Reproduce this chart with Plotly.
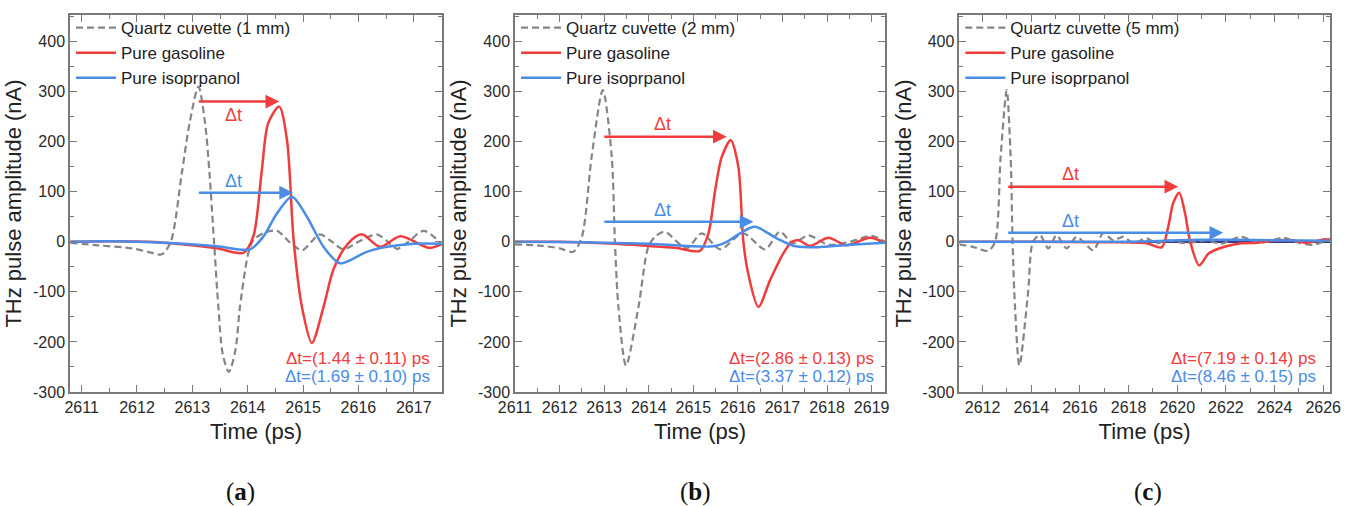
import plotly.graph_objects as go

# ---------------- data ----------------
# Panel (a): 1 mm cuvette
t_quartz_a = [2610.8, 2611.3, 2611.9, 2612.2, 2612.45, 2612.61, 2612.81, 2612.95, 2613.11, 2613.23,
              2613.31, 2613.39, 2613.47, 2613.55, 2613.66, 2613.78, 2613.86, 2614.01, 2614.1, 2614.3,
              2614.53, 2614.75, 2614.98, 2615.15, 2615.3, 2615.5, 2615.73, 2616.0, 2616.33, 2616.5,
              2616.7, 2616.9, 2617.18, 2617.48]
v_quartz_a = [-2, -7, -13, -20, -25, 0, 137, 237, 310, 237,
              137, 3, -130, -225, -260, -215, -130, -23, 3, 18,
              22, 0, -17, 0, 15, 2, -15, 0, 15, 3,
              -14, 0, 22, -2]
t_gas_a = [2610.8, 2611.5, 2612.2, 2612.8, 2613.44, 2613.92, 2614.1, 2614.25, 2614.37, 2614.57,
           2614.71, 2614.83, 2614.98, 2615.16, 2615.37, 2615.55, 2615.8, 2616.06, 2616.39, 2616.76,
           2617.27, 2617.51]
v_gas_a = [0, 1, 0, -5, -13, -22, 10, 137, 237, 270,
           203, 3, -130, -202, -130, -55, -5, 15, -10, 11,
           -12, -4]
t_iso_a = [2610.8, 2611.5, 2612.5, 2613.44, 2614.04, 2614.28, 2614.53, 2614.8, 2615.07, 2615.37,
           2615.67, 2616.15, 2616.52, 2617.0, 2617.51]
v_iso_a = [0, 1, -2, -9, -15, 10, 57, 90, 50, -10,
           -43, -20, -10, -4, -4]

# Panel (b): 2 mm cuvette
t_quartz_b = [2611.0, 2611.6, 2612.0, 2612.31, 2612.5, 2612.72, 2612.97, 2613.17, 2613.24, 2613.32,
              2613.49, 2613.77, 2613.99, 2614.14, 2614.36, 2614.85, 2615.19, 2615.6, 2616.12, 2616.61,
              2616.94, 2617.24, 2617.58, 2618.03, 2618.51, 2619.0, 2619.3]
v_quartz_b = [-5, -8, -13, -20, 10, 170, 303, 170, 3, -130,
              -247, -130, -10, 10, 20, -13, 17, -15, 17, -15,
              20, -3, 13, -6, 0, 12, 0]
t_gas_b = [2611.0, 2612.0, 2613.0, 2613.95, 2614.6, 2615.15, 2615.34, 2615.49, 2615.64, 2615.84,
           2616.01, 2616.12, 2616.23, 2616.46, 2616.72, 2617.02, 2617.21, 2617.36, 2617.62, 2618.03,
           2618.44, 2618.96, 2619.3]
v_gas_b = [0, 0, -3, -8, -12, -18, 17, 103, 170, 203,
           150, 3, -63, -130, -77, -23, 0, 3, -8, 8,
           -7, 8, -2]
t_iso_b = [2611.0, 2612.5, 2614.0, 2615.45, 2615.75, 2616.05, 2616.38, 2616.87, 2617.24, 2617.6,
           2617.9, 2618.51, 2619.3]
v_iso_b = [0, -1, -4, -9, 0, 17, 30, 7, -8, -11,
           -10, -6, -2]

# Panel (c): 5 mm cuvette
t_quartz_c = [2611.04, 2611.6, 2612.23, 2612.51, 2612.74, 2612.99, 2613.15, 2613.23, 2613.33, 2613.51,
              2613.87, 2614.07, 2614.36, 2614.7, 2615.04, 2615.45, 2615.86, 2616.2, 2616.55, 2616.96,
              2617.37, 2617.78, 2618.19, 2618.74, 2619.15, 2619.56, 2620.38, 2621.2, 2621.8, 2622.6,
              2623.4, 2624.36, 2625.0, 2625.59, 2626.28]
v_quartz_c = [-5, -10, -18, 0, 170, 303, 170, 3, -130, -247,
              -100, 0, 13, -13, 13, -13, 10, -3, -17, 17,
              3, 10, -3, 7, -3, 3, -3, 3, -4, 10,
              -2, 8, -2, -6, 6]
t_gas_c = [2611.04, 2614.0, 2617.0, 2618.74, 2619.36, 2619.63, 2619.83, 2620.08, 2620.32, 2620.52,
           2620.9, 2621.3, 2621.94, 2622.62, 2623.3, 2624.08, 2624.76, 2625.32, 2626.07, 2626.28]
v_gas_c = [0, 0, -1, -3, -11, 30, 77, 98, 57, 3,
           -47, -23, -10, -3, -2, 3, 3, -2, 5, 3]
t_iso_c = [2611.04, 2615.0, 2618.0, 2619.0, 2620.0, 2621.0, 2622.0, 2624.0, 2626.28]
v_iso_c = [0, 0, 0, 1, 3, 4, 4, 3, 2]

# Delay arrows: (start time, end time, level) and result labels
arrows_gas = [(2613.09, 2614.57, 280), (2612.97, 2615.75, 210), (2612.99, 2620.04, 110)]
arrows_iso = [(2613.09, 2614.82, 98), (2612.97, 2616.35, 40), (2612.99, 2621.89, 18)]
dt_gas = ["Δt=(1.44 ± 0.11) ps", "Δt=(2.86 ± 0.13) ps", "Δt=(7.19 ± 0.14) ps"]
dt_iso = ["Δt=(1.69 ± 0.10) ps", "Δt=(3.37 ± 0.12) ps", "Δt=(8.46 ± 0.15) ps"]
cuvettes = ["Quartz cuvette (1 mm)", "Quartz cuvette (2 mm)", "Quartz cuvette (5 mm)"]
panel_labels = ["a", "b", "c"]

x_ranges = [[2610.79, 2617.51], [2611.0, 2619.3], [2611.04, 2626.28]]
x_dticks = [1, 1, 2]
x_minor = [0.5, 0.5, 1]
y_ticks = [-300, -200, -100, 0, 100, 200, 300, 400]
y_ticklabels = ["-300", "-200", "-100", "0", "100", "200", "300", "400"]

# ---------------- styling ----------------
RED = "#F03C3C"
BLUE = "#4A8CE6"
GRAY = "#858585"
FONT = "Liberation Sans, Arial, sans-serif"
SERIF = "Liberation Serif, Times New Roman, serif"
W, H = 1350, 506
px_left = [70, 515, 959.3]
px_right = [442, 885, 1330]
py_top, py_bot = 15, 392
ydom = [(H - py_bot) / H, (H - py_top) / H]

panels = [
    (t_quartz_a, v_quartz_a, t_gas_a, v_gas_a, t_iso_a, v_iso_a),
    (t_quartz_b, v_quartz_b, t_gas_b, v_gas_b, t_iso_b, v_iso_b),
    (t_quartz_c, v_quartz_c, t_gas_c, v_gas_c, t_iso_c, v_iso_c),
]

fig = go.Figure()
annotations = []
legend_names = ["legend", "legend2", "legend3"]
layout = dict()
label_shift = [-0.08, -0.05, -0.9]
label_side = [-13, 13, 13]

for i, (tq, vq, tg, vg, ti, vi) in enumerate(panels):
    sfx = "" if i == 0 else str(i + 1)
    xa, ya = "x" + sfx, "y" + sfx
    lg = legend_names[i]
    fig.add_trace(go.Scatter(x=tq, y=vq, mode="lines", name=cuvettes[i],
                             line=dict(color=GRAY, width=2.2, dash="7px,4px", shape="spline", smoothing=0.8),
                             xaxis=xa, yaxis=ya, legend=lg))
    fig.add_trace(go.Scatter(x=tg, y=vg, mode="lines", name="Pure gasoline",
                             line=dict(color=RED, width=2.5, shape="spline", smoothing=0.8),
                             xaxis=xa, yaxis=ya, legend=lg))
    fig.add_trace(go.Scatter(x=ti, y=vi, mode="lines", name="Pure isoprpanol",
                             line=dict(color=BLUE, width=2.5, shape="spline", smoothing=0.8),
                             xaxis=xa, yaxis=ya, legend=lg))

    xd = [px_left[i] / W, px_right[i] / W]
    axis_common = dict(showline=True, mirror="ticks", linecolor="#7a7a7a", linewidth=1.5,
                       ticks="inside", ticklen=7, tickwidth=1.2, tickcolor="#7a7a7a",
                       showgrid=False, zeroline=False, automargin=False,
                       tickfont=dict(family=FONT, size=16, color="#2a2a2a"))
    layout["xaxis" + sfx] = dict(axis_common, domain=xd, anchor=ya, range=x_ranges[i],
                                 dtick=x_dticks[i], tick0=2610,
                                 minor=dict(ticks="inside", ticklen=4, dtick=x_minor[i], tickcolor="#7a7a7a"),
                                 title=dict(text="Time (ps)", font=dict(family=FONT, size=22, color="#222222"),
                                            standoff=9))
    layout["yaxis" + sfx] = dict(axis_common, domain=ydom, anchor=xa, range=[-300, 453],
                                 tickvals=y_ticks, ticktext=y_ticklabels,
                                 minor=dict(ticks="inside", ticklen=4, dtick=50, tickcolor="#7a7a7a"),
                                 title=dict(text="THz pulse amplitude (nA)",
                                            font=dict(family=FONT, size=22, color="#222222"), standoff=5))
    if i == 2:
        layout["yaxis" + sfx].update(zeroline=True, zerolinecolor="#3a3a90", zerolinewidth=1.6)

    layout[lg] = dict(x=xd[0] + 1 / W, y=1 - 10 / H, xanchor="left", yanchor="top",
                      bgcolor="rgba(0,0,0,0)", borderwidth=0, itemwidth=40,
                      font=dict(family=FONT, size=17, color="#222222"), tracegroupgap=0)

    # arrows
    for (t0, t1, lev), col in [(arrows_gas[i], RED), (arrows_iso[i], BLUE)]:
        annotations.append(dict(x=t1, y=lev, ax=t0, ay=lev, xref=xa, yref=ya, axref=xa, ayref=ya,
                                text="", showarrow=True, arrowhead=2, arrowsize=1.1, arrowwidth=2.5,
                                arrowcolor=col, standoff=0))
    ga, ia = arrows_gas[i], arrows_iso[i]
    xm = (ga[0] + ga[1]) / 2 + label_shift[i]
    annotations.append(dict(x=xm, y=ga[2], yshift=label_side[i], xref=xa, yref=ya,
                            text="Δt", showarrow=False, font=dict(family=FONT, size=18, color=RED)))
    annotations.append(dict(x=xm, y=ia[2], yshift=12, xref=xa, yref=ya, text="Δt", showarrow=False,
                            font=dict(family=FONT, size=18, color=BLUE)))

    # result texts bottom right
    xr = [431.7, 876, 1318.3][i] / W
    annotations.append(dict(x=xr, y=1 - 358.3 / H, xref="paper", yref="paper", xanchor="right",
                            yanchor="middle", text=dt_gas[i], showarrow=False,
                            font=dict(family=FONT, size=17, color=RED)))
    annotations.append(dict(x=xr, y=1 - 376.7 / H, xref="paper", yref="paper", xanchor="right",
                            yanchor="middle", text=dt_iso[i], showarrow=False,
                            font=dict(family=FONT, size=17, color=BLUE)))

    # panel label
    xc = [240, 695, 1148][i] / W
    annotations.append(dict(x=xc, y=1 - 492 / H, xref="paper", yref="paper", xanchor="center",
                            yanchor="middle", text="(<b>" + panel_labels[i] + "</b>)", showarrow=False,
                            font=dict(family=SERIF, size=25, color="#111111")))

fig.update_layout(**layout)
fig.update_layout(width=W, height=H, margin=dict(l=0, r=0, t=0, b=0, autoexpand=False),
                  paper_bgcolor="white", plot_bgcolor="white", showlegend=True,
                  annotations=annotations)

fig.write_html("out.html")
